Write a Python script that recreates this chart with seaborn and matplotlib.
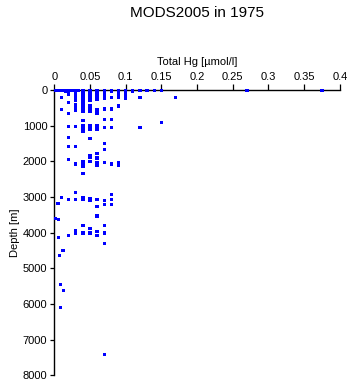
import matplotlib
matplotlib.use("Agg")
import matplotlib.pyplot as plt
import seaborn as sns
import pandas as pd

# Total Hg [umol/l] and depth [m]
hg_surface = [0.002, 0.004, 0.006, 0.008, 0.010, 0.012, 0.014, 0.016, 0.018, 0.020,
              0.022, 0.024, 0.026, 0.028, 0.030, 0.032, 0.034,
              0.040, 0.050, 0.060, 0.070, 0.080, 0.090, 0.100, 0.110, 0.120,
              0.130, 0.140, 0.150, 0.270, 0.375]
depth_surface = [0, 0, 0, 0, 0, 0, 0, 0, 0, 0,
                 0, 0, 0, 0, 0, 0, 0,
                 0, 0, 0, 0, 0, 0, 0, 0, 0,
                 0, 0, 0, 0, 0]

hg_upper = [0.004, 0.010, 0.016, 0.024, 0.030,
            0.020, 0.020, 0.030, 0.030, 0.030, 0.030, 0.030,
            0.040, 0.040, 0.040, 0.040, 0.040, 0.040,
            0.050, 0.050, 0.050, 0.050, 0.050, 0.050,
            0.060, 0.060, 0.060, 0.060, 0.060,
            0.070, 0.070, 0.070, 0.070,
            0.080, 0.080, 0.090, 0.090, 0.090,
            0.100, 0.100, 0.100, 0.110, 0.120, 0.170]
depth_upper = [15, 200, 20, 15, 20,
               50, 100, 30, 80, 130, 200, 280,
               30, 80, 130, 180, 240, 300,
               30, 80, 130, 180, 240, 280,
               30, 80, 130, 190, 250,
               40, 100, 160, 230,
               40, 200, 40, 100, 200,
               40, 130, 230, 30, 210, 210]

hg_mid = [0.010, 0.020, 0.020, 0.030, 0.030, 0.030, 0.040, 0.040, 0.040, 0.040,
          0.050, 0.050, 0.050, 0.060, 0.060, 0.070, 0.080, 0.090, 0.020, 0.070,
          0.080, 0.040, 0.020, 0.030, 0.040, 0.050, 0.060, 0.070, 0.080, 0.120,
          0.150, 0.040, 0.050, 0.060, 0.020, 0.050, 0.070, 0.020, 0.030, 0.070,
          0.050, 0.060, 0.050, 0.060, 0.020, 0.030, 0.040, 0.050, 0.060, 0.070,
          0.080, 0.090, 0.040, 0.060, 0.090, 0.040, 0.040, 0.040]
depth_mid = [537, 340, 650, 400, 480, 560, 400, 470, 540, 600,
             440, 520, 600, 540, 640, 530, 530, 440, 1015, 820,
             820, 850, 1015, 1015, 990, 1000, 1000, 1050, 1050, 1043,
             900, 1060, 1090, 1090, 1324, 1352, 1493, 1577, 1577, 1661,
             1830, 1780, 1880, 1900, 1940, 2073, 2000, 2008, 2040, 2030,
             2073, 2030, 2130, 2100, 2110, 2070, 2335, 1150]

hg_deep = [0.030, 0.010, 0.020, 0.030, 0.040, 0.040, 0.050, 0.050, 0.060, 0.070,
           0.080, 0.080, 0.080, 0.070, 0.005, 0.060, 0.002, 0.006, 0.060, 0.040,
           0.050, 0.070, 0.006, 0.020, 0.030, 0.040, 0.050, 0.060, 0.060, 0.070,
           0.070, 0.012, 0.007, 0.009, 0.013, 0.009, 0.070, 0.030, 0.040, 0.070]
depth_deep = [2869, 3009, 3066, 3066, 3066, 3030, 3040, 3100, 3066, 3100,
              2920, 3066, 3215, 3200, 3178, 3262, 3600, 3630, 3535, 3796,
              3880, 3796, 4133, 4077, 4011, 4030, 4011, 3974, 4077, 4011,
              4311, 4498, 4639, 5454, 5622, 6100, 7420, 3950, 3990, 3990]

df = pd.DataFrame({
    "hg": hg_surface + hg_upper + hg_mid + hg_deep,
    "depth": depth_surface + depth_upper + depth_mid + depth_deep,
})

sns.set_style("ticks")
plt.rcParams["font.family"] = ["Liberation Sans", "DejaVu Sans"]
plt.rcParams["text.color"] = "black"
plt.rcParams["axes.labelcolor"] = "black"

fig = plt.figure(figsize=(3.5, 3.84), dpi=100)
ax = fig.add_axes([0.155, 0.023, 0.816, 0.742])

sns.scatterplot(data=df, x="hg", y="depth", ax=ax, marker="s", s=6,
                color="#0000ff", edgecolor="none", linewidth=0,
                zorder=5, clip_on=False)

ax.set_xlim(0, 0.4)
ax.set_ylim(8000, 0)
ax.xaxis.tick_top()
ax.xaxis.set_label_position("top")
ax.set_xticks([0, 0.05, 0.1, 0.15, 0.2, 0.25, 0.3, 0.35, 0.4])
ax.set_xticklabels(["0", "0.05", "0.1", "0.15", "0.2", "0.25", "0.3", "0.35", "0.4"])
ax.set_yticks(range(0, 8001, 1000))
ax.set_xlabel("Total Hg [µmol/l]", fontsize=8, labelpad=5, color="black")
ax.set_ylabel("Depth [m]", fontsize=8, labelpad=2, color="black")
ax.tick_params(axis="both", labelsize=8, direction="out", width=0.9, colors="black")
ax.tick_params(axis="x", length=4, pad=2)
ax.tick_params(axis="y", length=3, pad=2)
for s in ["right", "bottom"]:
    ax.spines[s].set_visible(False)
for s in ["top", "left"]:
    ax.spines[s].set_linewidth(1.0)
    ax.spines[s].set_color("black")

fig.text(0.563, 0.967, "MODS2005 in 1975", ha="center", va="center",
         fontsize=11, color="black")

fig.savefig("out.png", dpi=100)
